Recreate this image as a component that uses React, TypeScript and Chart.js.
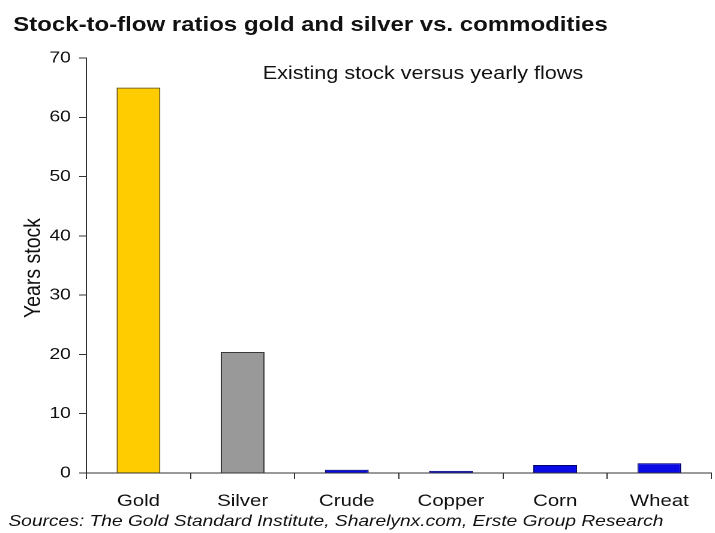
import React, { useEffect, useRef } from "react";
import { Chart, registerables } from "chart.js";

Chart.register(...registerables);

// ---- data ----
const categories = ["Gold", "Silver", "Crude", "Copper", "Corn", "Wheat"];
const yearsStock = [65, 20.4, 0.55, 0.35, 1.35, 1.65];
const barColors = ["#FFCC00", "#999999", "#0A0AE6", "#0A0AE6", "#0A0AE6", "#0A0AE6"];
const barBorders = ["#5E4C00", "#3A3A3A", "#00006E", "#00006E", "#00006E", "#00006E"];
const yMin = 0;
const yMax = 70;
const yStep = 10;

const titleText = "Stock-to-flow ratios gold and silver vs. commodities";
const noteText = "Existing stock versus yearly flows";
const yTitleText = "Years stock";
const sourceText = "Sources: The Gold Standard Institute, Sharelynx.com, Erste Group Research";

// internal drawing size (the picture is shown horizontally stretched)
const W = 596;
const H = 533;
const FONT = '"Liberation Sans", Arial, Helvetica, sans-serif';

const textPlugin = {
  id: "texts",
  afterDraw(chart: any) {
    const ctx = chart.ctx;
    ctx.save();
    ctx.fillStyle = "#111";
    ctx.textAlign = "left";
    ctx.textBaseline = "alphabetic";
    ctx.font = `bold 20px ${FONT}`;
    ctx.fillText(titleText, 11, 31);
    ctx.font = `18px ${FONT}`;
    ctx.fillText(noteText, 219, 79);
    ctx.font = `italic 16px ${FONT}`;
    ctx.fillText(sourceText, 7, 526);
    ctx.save();
    ctx.translate(28, 268);
    ctx.rotate(-Math.PI / 2);
    ctx.textAlign = "center";
    ctx.textBaseline = "middle";
    ctx.font = `19.5px ${FONT}`;
    ctx.fillText(yTitleText, 0, 0);
    ctx.restore();
    ctx.restore();
  },
};

export default function App() {
  const ref = useRef<HTMLCanvasElement | null>(null);
  useEffect(() => {
    if (!ref.current) return;
    const chart = new Chart(ref.current, {
      type: "bar",
      data: {
        labels: categories,
        datasets: [
          {
            data: yearsStock,
            backgroundColor: barColors,
            borderColor: barBorders,
            borderWidth: 1,
            barPercentage: 0.42,
            categoryPercentage: 1,
          },
        ],
      },
      options: {
        responsive: false,
        animation: false,
        devicePixelRatio: 2,
        layout: { padding: { top: 58, right: 3, bottom: 0, left: 0 } },
        plugins: {
          legend: { display: false },
          tooltip: { enabled: false },
          title: { display: false },
        },
        scales: {
          x: {
            offset: true,
            grid: {
              display: true,
              offset: true,
              drawOnChartArea: false,
              drawTicks: true,
              tickLength: 6,
              color: "#333",
            },
            border: { display: true, color: "#333", width: 1 },
            ticks: {
              color: "#111",
              font: { family: FONT, size: 17 },
              padding: 12,
              maxRotation: 0,
            },
            afterFit(scale: any) {
              scale.height = 60;
            },
          },
          y: {
            min: yMin,
            max: yMax,
            grid: {
              display: true,
              drawOnChartArea: false,
              drawTicks: true,
              tickLength: 6,
              color: "#333",
            },
            border: { display: true, color: "#333", width: 1 },
            ticks: {
              stepSize: yStep,
              color: "#111",
              font: { family: FONT, size: 16 },
              padding: 7,
            },
            afterFit(scale: any) {
              scale.width = 72;
            },
          },
        },
      },
      plugins: [textPlugin],
    });
    return () => chart.destroy();
  }, []);

  return (
    <div style={{ position: "fixed", left: 0, top: 0, width: 715, height: 533, background: "#fff" }}>
      <canvas
        ref={ref}
        width={W}
        height={H}
        style={{ width: "715px", height: "533px", display: "block" }}
      />
    </div>
  );
}
